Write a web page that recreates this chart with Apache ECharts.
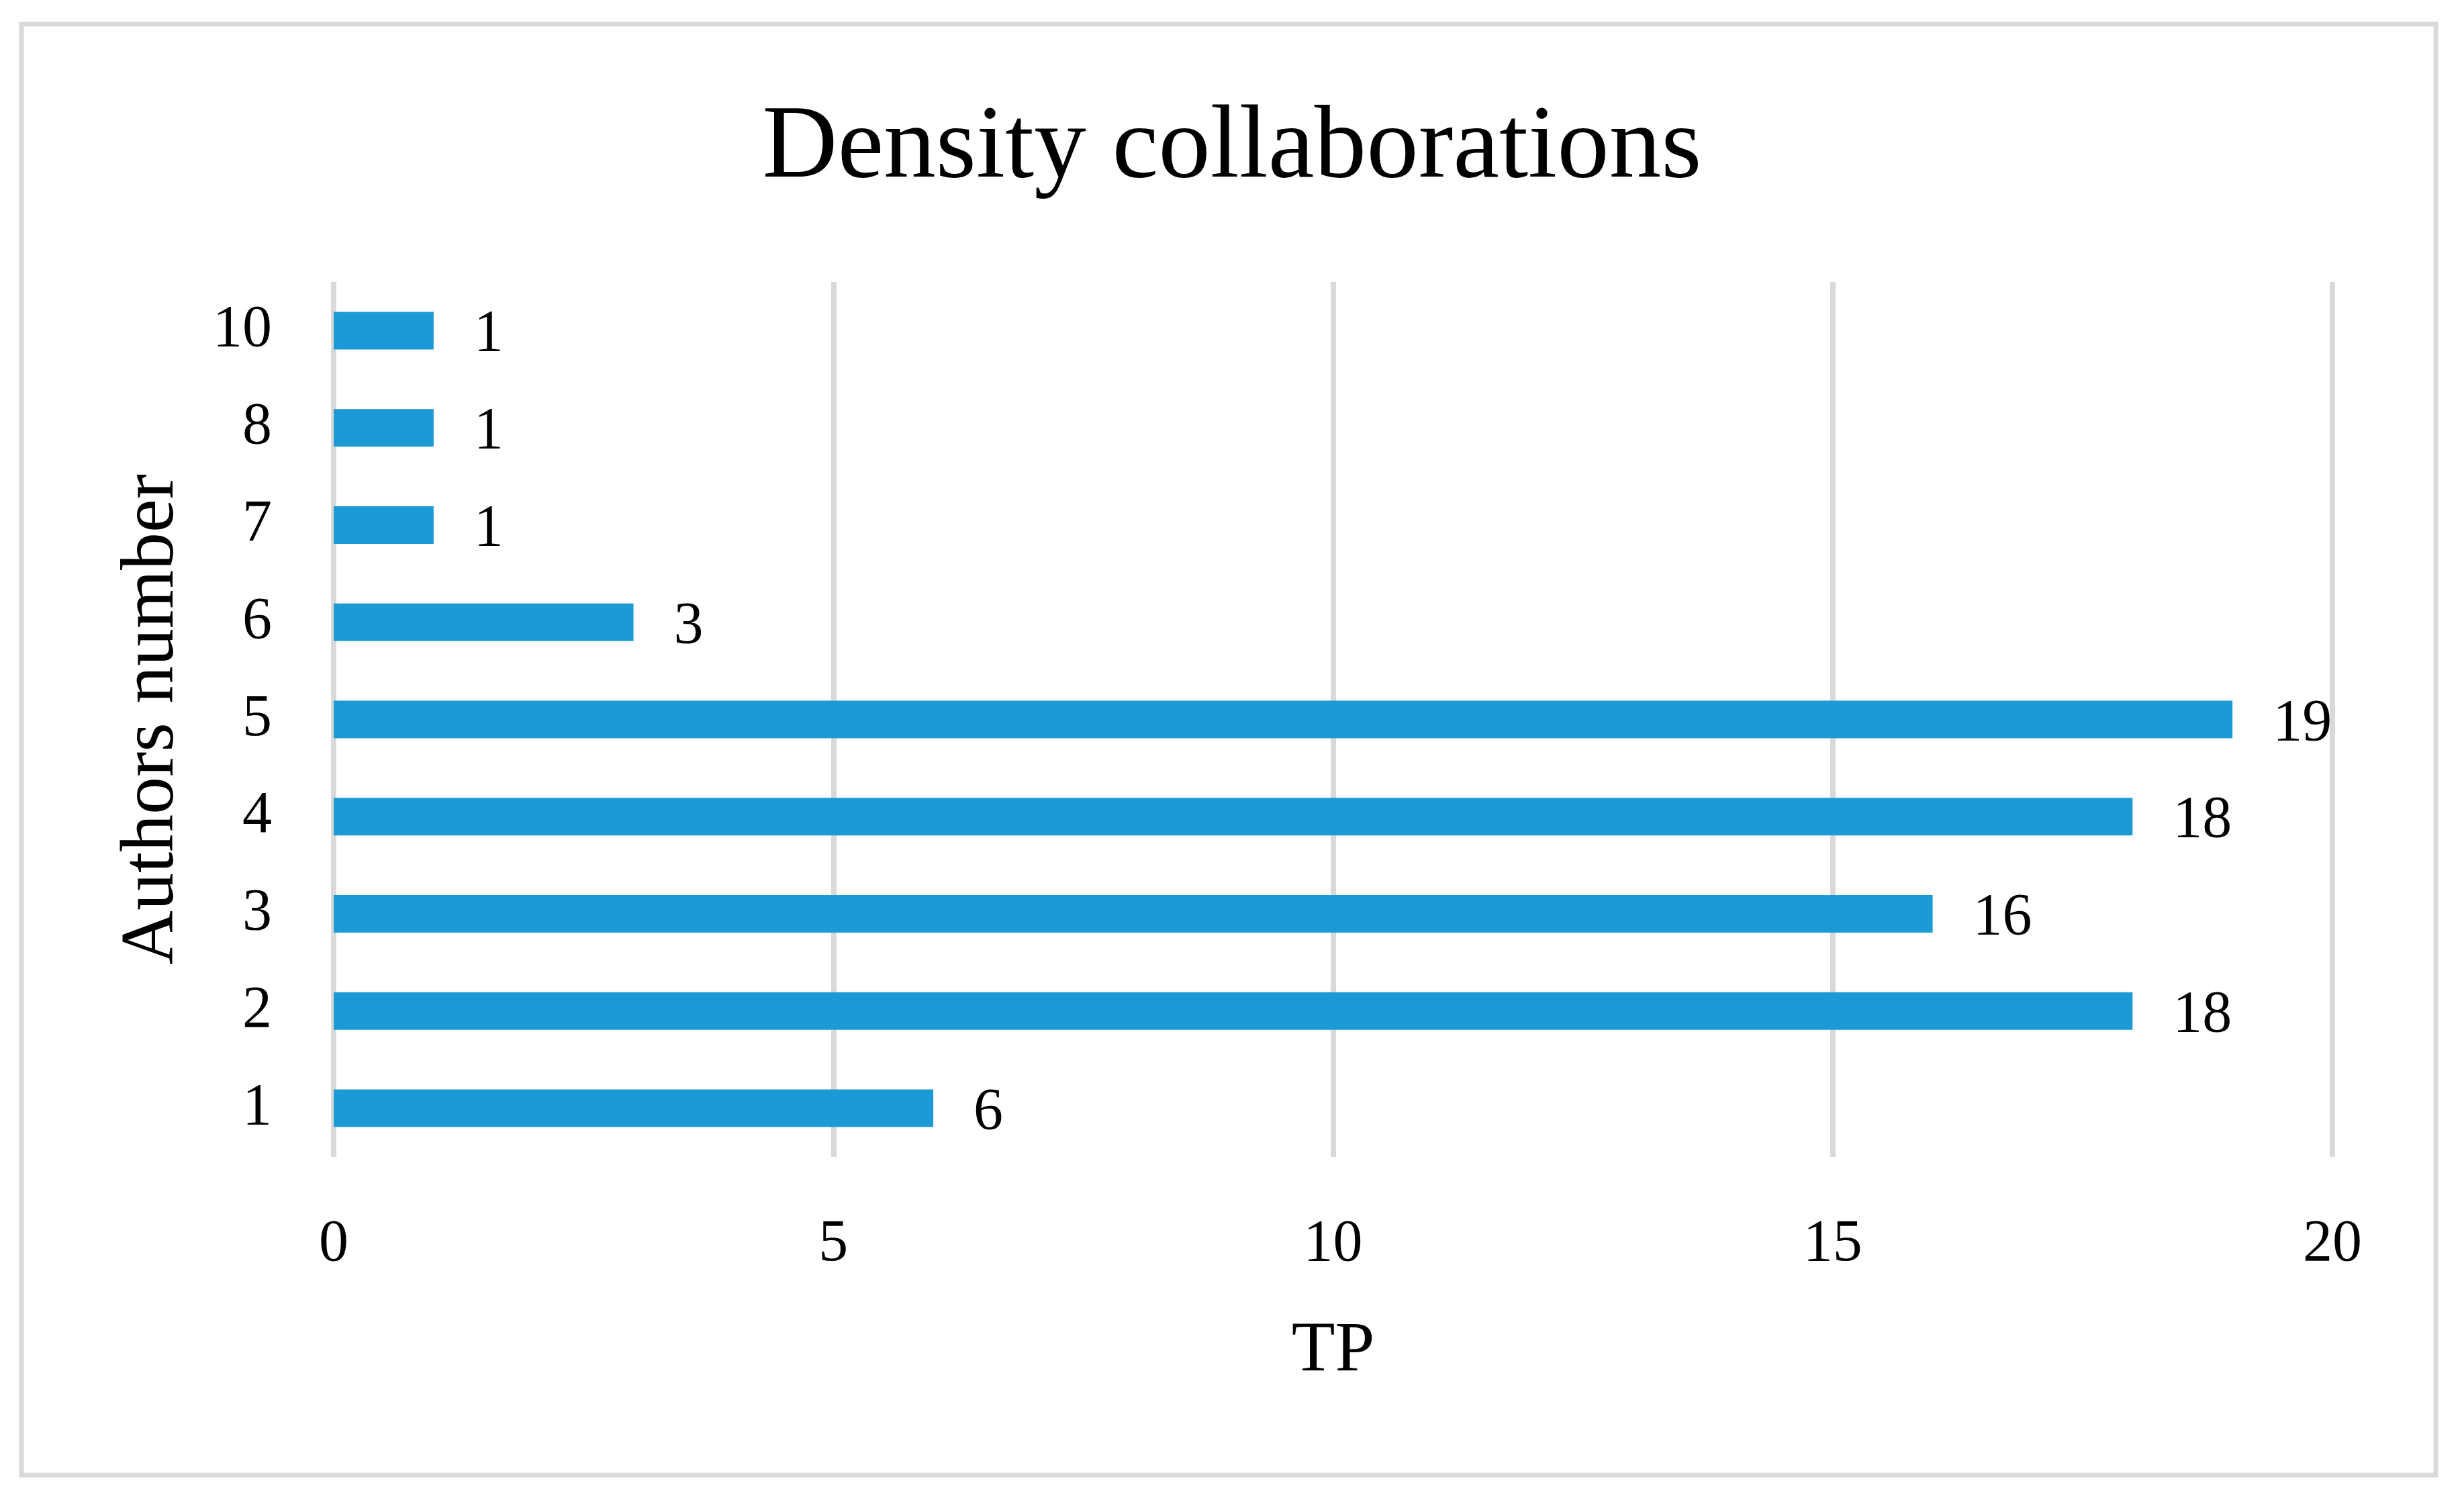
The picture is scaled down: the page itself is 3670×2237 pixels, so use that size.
<!DOCTYPE html>
<html>
<head>
<meta charset="utf-8">
<script src="https://cdn.jsdelivr.net/npm/echarts@6/dist/echarts.min.js"></script>
<style>
html,body{margin:0;padding:0;background:#fff;}
#chart{width:3670px;height:2237px;}
</style>
</head>
<body>
<div id="chart"></div>
<script>
const titleText = 'Density collaborations';
const categories = ['1', '2', '3', '4', '5', '6', '7', '8', '10'];
const values = [6, 18, 16, 18, 19, 3, 1, 1, 1];
const xTicks = [0, 5, 10, 15, 20];
const xName = 'TP';
const yName = 'Authors number';

const FONT = '"Liberation Serif", "DejaVu Serif", serif';
const chart = echarts.init(document.getElementById('chart'), null, {renderer: 'canvas'});
chart.setOption({
  backgroundColor: '#ffffff',
  animation: false,
  title: {
    text: titleText,
    left: 'center',
    top: 140,
    textStyle: {fontFamily: FONT, fontSize: 155, fontWeight: 'normal', color: '#000'}
  },
  graphic: [{
    type: 'rect',
    shape: {x: 32, y: 36, width: 3596, height: 2161},
    style: {fill: 'none', stroke: '#d9d9d9', lineWidth: 7},
    silent: true
  }],
  grid: {left: 497, right: 196, top: 420, bottom: 514, containLabel: false},
  xAxis: {
    type: 'value',
    min: xTicks[0],
    max: xTicks[xTicks.length - 1],
    interval: 5,
    name: xName,
    nameLocation: 'middle',
    nameGap: 237,
    nameTextStyle: {fontFamily: FONT, fontSize: 106, color: '#000'},
    axisLine: {show: false},
    axisTick: {show: false},
    axisLabel: {fontFamily: FONT, fontSize: 88, color: '#000', margin: 87},
    splitLine: {show: true, lineStyle: {color: '#d9d9d9', width: 8}}
  },
  yAxis: {
    type: 'category',
    data: categories,
    name: yName,
    nameLocation: 'middle',
    nameGap: 213,
    nameRotate: 90,
    nameTextStyle: {fontFamily: FONT, fontSize: 112, color: '#000'},
    axisLine: {show: false},
    axisTick: {show: false},
    axisLabel: {fontFamily: FONT, fontSize: 88, color: '#000', margin: 92, padding: [12, 0, 0, 0]},
    splitLine: {show: false}
  },
  series: [{
    type: 'bar',
    data: values,
    barWidth: 56,
    itemStyle: {color: '#1b9ad6'},
    label: {
      show: true,
      position: 'right',
      distance: 60,
      offset: [0, 7],
      fontFamily: FONT,
      fontSize: 88,
      color: '#000'
    }
  }]
});
</script>
</body>
</html>
